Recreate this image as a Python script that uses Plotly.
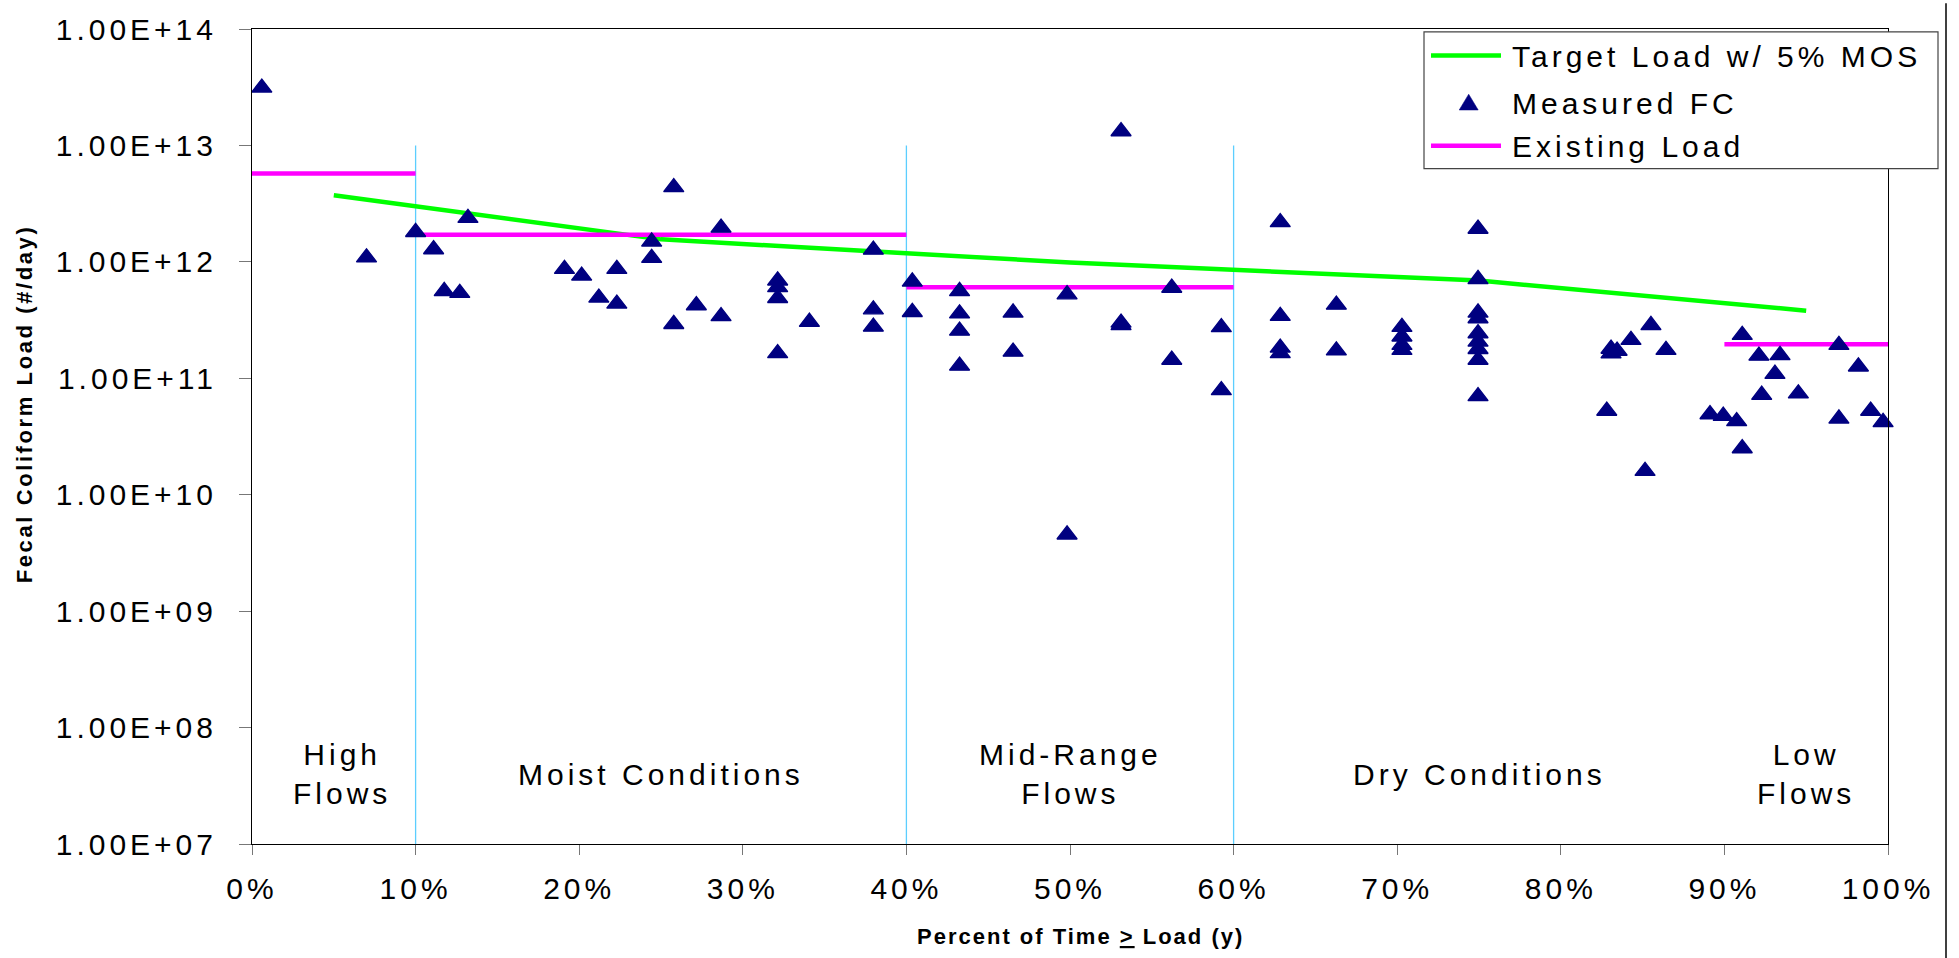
import plotly.graph_objects as go

# ---------------- data ----------------
# Measured fecal coliform loads: flow-duration percentile (%) and load (#/day)
measured_pct = [
    0.6, 7.0, 10.0, 11.1, 11.75, 12.7, 13.2,
    19.1, 20.15, 21.2, 22.3, 22.3, 24.43, 24.43, 25.78, 25.78, 27.16, 28.67, 28.67,
    32.13, 32.13, 32.13, 32.13, 34.07, 37.98, 37.98, 37.98,
    40.36, 40.36, 43.25, 43.25, 43.25, 43.25, 46.52, 46.52, 49.82, 49.82,
    53.12, 53.12, 53.12, 56.22, 56.22, 59.25, 59.25,
    62.85, 62.85, 62.85, 62.85, 66.28, 66.28,
    70.29, 70.29, 70.29, 70.29,
    74.94, 74.94, 74.94, 74.94, 74.94, 74.94, 74.94, 74.94, 74.94,
    82.81, 83.07, 83.44, 83.07, 84.29, 85.15, 85.51, 86.43,
    89.12, 89.93, 90.75, 91.09, 91.09, 92.11, 92.28, 93.09, 93.4, 94.52,
    97.0, 97.0, 98.19, 98.94, 99.7,
]
measured_load = [
    3.13e13, 1.09e12, 1.80e12, 1.28e12, 5.6e11, 5.4e11, 2.38e12,
    8.67e11, 7.6e11, 4.92e11, 8.67e11, 4.37e11, 1.49e12, 1.08e12, 4.37e12, 2.92e11, 4.23e11, 1.96e12, 3.41e11,
    6.9e11, 6.05e11, 4.88e11, 1.64e11, 3.05e11, 1.27e12, 3.9e11, 2.77e11,
    6.76e11, 3.7e11, 5.6e11, 3.6e11, 2.56e11, 1.28e11, 3.66e11, 1.69e11, 5.25e11, 4.54e9,
    1.32e13, 3.0e11, 2.86e11, 5.98e11, 1.44e11, 2.74e11, 7.9e10,
    2.19e12, 3.43e11, 1.83e11, 1.64e11, 4.28e11, 1.73e11,
    2.76e11, 2.28e11, 1.93e11, 1.75e11,
    1.92e12, 7.1e11, 3.66e11, 3.27e11, 2.43e11, 2.06e11, 1.78e11, 1.44e11, 7.0e10,
    5.25e10, 1.79e11, 1.72e11, 1.63e11, 2.13e11, 1.6e10, 2.86e11, 1.75e11,
    4.9e10, 4.75e10, 4.27e10, 2.35e11, 2.5e10, 1.56e11, 7.2e10, 1.09e11, 1.58e11, 7.4e10,
    1.93e11, 4.5e10, 1.26e11, 5.25e10, 4.2e10,
]

# Target load (with 5% margin of safety) at the mid-point of each flow regime
target_pct = [5, 25, 50, 75, 95]
target_load = [3.73e12, 1.56e12, 9.86e11, 6.90e11, 3.81e11]

# Existing load per flow regime (start %, end %, load)
existing_start = [0, 10, 40, 90]
existing_end = [10, 40, 60, 100]
existing_load = [5.74e12, 1.71e12, 6.05e11, 1.96e11]

# Flow-regime boundaries and labels
regime_bounds = [10, 40, 60]
regime_centers = [5.5, 25, 50, 75, 95]
regime_labels = ["High<br>Flows", "Moist Conditions", "Mid-Range<br>Flows",
                 "Dry Conditions", "Low<br>Flows"]

y_tick_vals = [1e7, 1e8, 1e9, 1e10, 1e11, 1e12, 1e13, 1e14]
y_tick_text = ["1.00E+07", "1.00E+08", "1.00E+09", "1.00E+10",
               "1.00E+11", "1.00E+12", "1.00E+13", "1.00E+14"]
x_tick_vals = [0, 10, 20, 30, 40, 50, 60, 70, 80, 90, 100]
x_tick_text = ["0%", "10%", "20%", "30%", "40%", "50%", "60%", "70%", "80%", "90%", "100%"]

series_names = ["Target Load w/ 5% MOS", "Measured FC", "Existing Load"]

# ---------------- styling helpers ----------------
W, H = 1959, 958
L, R, T, B = 252, 71, 21, 114
PW, PH = W - L - R, H - T - B
FONT = "Liberation Sans, Arial, Helvetica, sans-serif"
GREEN, MAGENTA, NAVY, SKY = "#00FF00", "#FF00FF", "#000080", "#5CCEFF"


def xp(px):
    return (px - L) / PW


def yp(py):
    return (H - B - py) / PH


def spaced(text, px):
    return "<br>".join(f'<span style="letter-spacing:{px}px">{part}</span>'
                       for part in text.split("<br>"))


fig = go.Figure()

# regime separators
sep_x, sep_y = [], []
for b in regime_bounds:
    sep_x += [b, b, None]
    sep_y += [1e7, 1e13, None]
fig.add_trace(go.Scatter(x=sep_x, y=sep_y, mode="lines", showlegend=False,
                         line=dict(color=SKY, width=1.3), hoverinfo="skip"))

# target load curve
fig.add_trace(go.Scatter(x=target_pct, y=target_load, mode="lines", name=series_names[0],
                         showlegend=False, line=dict(color=GREEN, width=4.5)))

# existing load per regime
ex_x, ex_y = [], []
for s, e, v in zip(existing_start, existing_end, existing_load):
    ex_x += [s, e, None]
    ex_y += [v, v, None]
fig.add_trace(go.Scatter(x=ex_x, y=ex_y, mode="lines", name=series_names[2],
                         showlegend=False, line=dict(color=MAGENTA, width=4.5)))

# measured samples
fig.add_trace(go.Scatter(x=measured_pct, y=measured_load, mode="markers", name=series_names[1],
                         showlegend=False, cliponaxis=False,
                         marker=dict(symbol="triangle-up", size=17.5, color=NAVY,
                                     line=dict(color=NAVY, width=1.3))))

annotations = []
# regime labels
for xc, lab in zip(regime_centers, regime_labels):
    annotations.append(dict(x=xc, y=7.6, xref="x", yref="y", text=spaced(lab, 4),
                            showarrow=False, xanchor="center", yanchor="middle",
                            align="center", font=dict(size=30, color="#000", family=FONT)))

# axis titles
annotations.append(dict(x=xp(24), y=yp(400), xref="paper", yref="paper",
                        text=spaced("Fecal Coliform Load (#/day)", 2.6), textangle=-90,
                        showarrow=False, xanchor="center", yanchor="middle",
                        font=dict(size=22, color="#000", family=FONT, weight="bold")))
annotations.append(dict(x=xp(1080), y=yp(937), xref="paper", yref="paper",
                        text=spaced("Percent of Time <u>></u> Load (y)", 2),
                        showarrow=False, xanchor="center", yanchor="middle",
                        font=dict(size=22, color="#000", family=FONT, weight="bold")))

# legend
shapes = []
shapes.append(dict(type="rect", xref="paper", yref="paper",
                   x0=xp(1424), x1=xp(1938), y0=yp(162), y1=yp(24),
                   line=dict(color="#444", width=1.2), fillcolor="white", layer="above"))
row_y = [47.7, 95.3, 139.0]
for ry, col in ((row_y[0], GREEN), (row_y[2], MAGENTA)):
    shapes.append(dict(type="line", xref="paper", yref="paper",
                       x0=xp(1431), x1=xp(1501), y0=yp(ry), y1=yp(ry),
                       line=dict(color=col, width=4.5), layer="above"))
cx, cy = 1468.7, row_y[1]
shapes.append(dict(type="path", xref="paper", yref="paper", layer="above",
                   path=f"M {xp(cx - 9.5)},{yp(cy + 7.5)} L {xp(cx + 9.5)},{yp(cy + 7.5)} "
                        f"L {xp(cx)},{yp(cy - 8.5)} Z",
                   fillcolor=NAVY, line=dict(color=NAVY, width=0.5)))
for ry, name in zip(row_y, series_names):
    annotations.append(dict(x=xp(1510), y=yp(ry + 1), xref="paper", yref="paper",
                            text=spaced(name, 4), showarrow=False,
                            xanchor="left", yanchor="middle",
                            font=dict(size=30, color="#000", family=FONT)))

# outer chart-area edge on the right
shapes.append(dict(type="line", xref="paper", yref="paper",
                   x0=xp(1946), x1=xp(1946), y0=yp(H + 5), y1=yp(-5),
                   line=dict(color="#000", width=1.5), layer="above"))

fig.update_layout(
    width=W, height=H,
    margin=dict(l=L, r=R, t=T, b=B, pad=0),
    paper_bgcolor="white", plot_bgcolor="white",
    font=dict(family=FONT, color="#000"),
    showlegend=False,
    annotations=annotations,
    shapes=shapes,
)
fig.update_xaxes(range=[0, 100], showgrid=False, zeroline=False,
                 showline=True, linecolor="#000", linewidth=1, mirror=True,
                 ticks="outside", ticklen=10, tickcolor="#777", tickwidth=1,
                 tickvals=x_tick_vals, ticktext=[spaced(t, 4) for t in x_tick_text],
                 tickfont=dict(size=30, family=FONT, color="#000"),
                 ticklabelstandoff=8)
fig.update_yaxes(type="log", range=[7, 14], showgrid=False, zeroline=False,
                 showline=True, linecolor="#000", linewidth=1, mirror=True,
                 ticks="outside", ticklen=12, tickcolor="#777", tickwidth=1,
                 tickvals=y_tick_vals, ticktext=[spaced(t, 4) for t in y_tick_text],
                 tickfont=dict(size=30, family=FONT, color="#000"),
                 ticklabelstandoff=16)

fig.write_html("out.html")
